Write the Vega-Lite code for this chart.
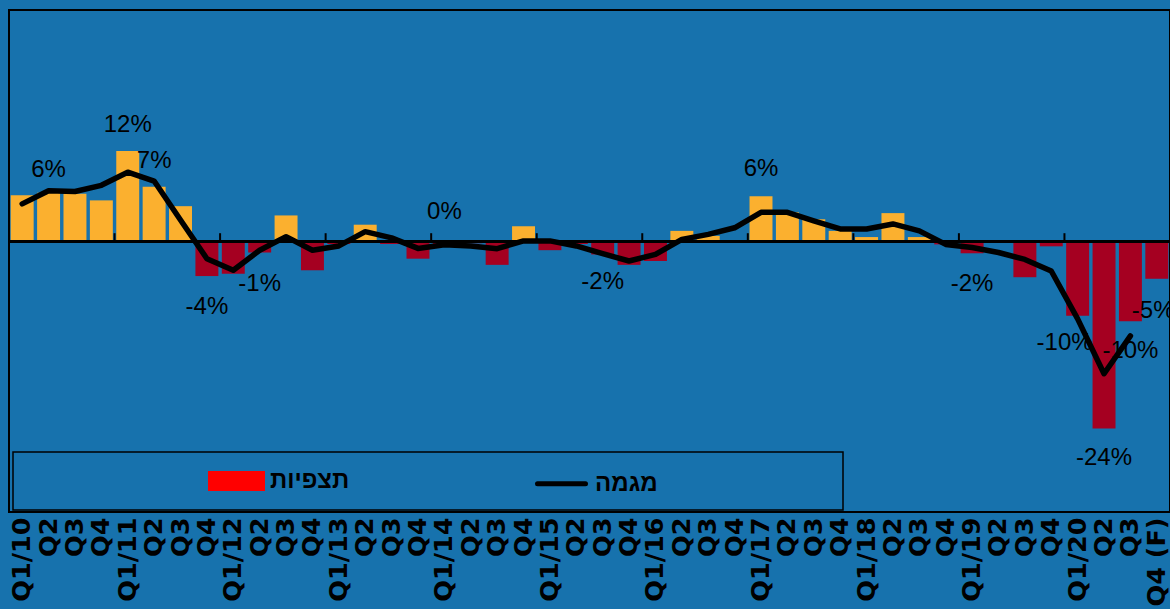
{
  "$schema": "https://vega.github.io/schema/vega-lite/v6.json",
  "width": 1161,
  "height": 502,
  "autosize": {"type": "none"},
  "padding": {"left": 9, "top": 10, "right": 0, "bottom": 97},
  "background": "#1772ad",
  "config": {
    "view": {"stroke": "#000000", "strokeWidth": 2},
    "text": {"font": "Liberation Sans"}
  },
  "data": {
    "values": [
      {"quarter": "Q1/10", "obs": 6.0, "trend": 4.9},
      {"quarter": "Q2/10", "obs": 6.35, "trend": 6.6},
      {"quarter": "Q3/10", "obs": 6.2, "trend": 6.5},
      {"quarter": "Q4/10", "obs": 5.35, "trend": 7.3},
      {"quarter": "Q1/11", "obs": 11.75, "trend": 9.0},
      {"quarter": "Q2/11", "obs": 7.1, "trend": 7.85},
      {"quarter": "Q3/11", "obs": 4.6, "trend": 2.8},
      {"quarter": "Q4/11", "obs": -4.45, "trend": -2.2},
      {"quarter": "Q1/12", "obs": -4.15, "trend": -3.7},
      {"quarter": "Q2/12", "obs": -1.4, "trend": -1.1},
      {"quarter": "Q3/12", "obs": 3.4, "trend": 0.65},
      {"quarter": "Q4/12", "obs": -3.7, "trend": -1.1},
      {"quarter": "Q1/13", "obs": -0.3, "trend": -0.55},
      {"quarter": "Q2/13", "obs": 2.2, "trend": 1.3},
      {"quarter": "Q3/13", "obs": -0.3, "trend": 0.5},
      {"quarter": "Q4/13", "obs": -2.2, "trend": -0.87},
      {"quarter": "Q1/14", "obs": -0.3, "trend": -0.4},
      {"quarter": "Q2/14", "obs": -0.2, "trend": -0.55},
      {"quarter": "Q3/14", "obs": -3.0, "trend": -0.9},
      {"quarter": "Q4/14", "obs": 2.0, "trend": 0.1},
      {"quarter": "Q1/15", "obs": -1.1, "trend": 0.1},
      {"quarter": "Q2/15", "obs": -0.3, "trend": -0.55},
      {"quarter": "Q3/15", "obs": -1.65, "trend": -1.55},
      {"quarter": "Q4/15", "obs": -3.0, "trend": -2.5},
      {"quarter": "Q1/16", "obs": -2.5, "trend": -1.65},
      {"quarter": "Q2/16", "obs": 1.4, "trend": 0.3},
      {"quarter": "Q3/16", "obs": 0.75, "trend": 0.95},
      {"quarter": "Q4/16", "obs": 0.22, "trend": 1.8},
      {"quarter": "Q1/17", "obs": 5.9, "trend": 3.8},
      {"quarter": "Q2/17", "obs": 3.8, "trend": 3.8},
      {"quarter": "Q3/17", "obs": 2.9, "trend": 2.7},
      {"quarter": "Q4/17", "obs": 1.4, "trend": 1.65},
      {"quarter": "Q1/18", "obs": 0.6, "trend": 1.65},
      {"quarter": "Q2/18", "obs": 3.7, "trend": 2.3},
      {"quarter": "Q3/18", "obs": 0.6, "trend": 1.4},
      {"quarter": "Q4/18", "obs": -0.35, "trend": -0.35},
      {"quarter": "Q1/19", "obs": -1.5, "trend": -0.75},
      {"quarter": "Q2/19", "obs": -0.1, "trend": -1.4},
      {"quarter": "Q3/19", "obs": -4.6, "trend": -2.3},
      {"quarter": "Q4/19", "obs": -0.6, "trend": -3.8},
      {"quarter": "Q1/20", "obs": -9.6, "trend": -10.0},
      {"quarter": "Q2/20", "obs": -24.2, "trend": -17.1},
      {"quarter": "Q3/20", "obs": -10.3, "trend": -12.2},
      {"quarter": "Q4 (F)", "obs": -4.8, "trend": null}
    ]
  },
  "layer": [
    {
      "mark": {"type": "bar"},
      "encoding": {
        "x": {
          "field": "quarter",
          "type": "ordinal",
          "scale": {
            "domain": ["Q1/10","Q2/10","Q3/10","Q4/10","Q1/11","Q2/11","Q3/11","Q4/11","Q1/12","Q2/12","Q3/12","Q4/12","Q1/13","Q2/13","Q3/13","Q4/13","Q1/14","Q2/14","Q3/14","Q4/14","Q1/15","Q2/15","Q3/15","Q4/15","Q1/16","Q2/16","Q3/16","Q4/16","Q1/17","Q2/17","Q3/17","Q4/17","Q1/18","Q2/18","Q3/18","Q4/18","Q1/19","Q2/19","Q3/19","Q4/19","Q1/20","Q2/20","Q3/20","Q4 (F)"],
            "paddingInner": 0.13,
            "paddingOuter": 0.065
          },
          "axis": {
            "title": null,
            "labelAngle": -90,
            "labelAlign": "right",
            "labelBaseline": "middle",
            "labelExpr": "slice(datum.label,0,2) == 'Q1' || datum.label == 'Q4 (F)' ? datum.label : slice(datum.label,0,2)",
            "domain": false,
            "ticks": false,
            "labelPadding": 5,
            "labelFont": "DejaVu Sans",
            "labelFontWeight": "bold",
            "labelFontSize": 25.5,
            "labelColor": "#000000",
            "labelOverlap": false,
            "labelBound": false
          }
        },
        "y": {
          "field": "obs",
          "type": "quantitative",
          "scale": {"domain": [-35, 30], "nice": false, "zero": false},
          "axis": null
        },
        "y2": {"datum": 0},
        "color": {
          "condition": [
            {"test": "datum.obs < 0", "value": "#a50021"},
            {"test": "datum.obs >= 0", "value": "#fbb02f"}
          ],
          "datum": "תצפיות",
          "scale": {"domain": ["תצפיות", "מגמה"], "range": ["#ff0000", "#000000"]},
          "legend": {
            "orient": "none",
            "legendX": 4,
            "legendY": 442,
            "direction": "horizontal",
            "title": "\u00a0",
            "titleOrient": "left",
            "titleFontSize": 1,
            "titlePadding": 194.5,
            "padding": 11.5,
            "strokeColor": "#000000",
            "symbolSize": 900,
            "labelFont": "Liberation Sans",
            "labelFontSize": 24,
            "labelFontWeight": "bold",
            "labelColor": "#000000",
            "labelOffset": 16,
            "labelLimit": 0,
            "columnPadding": 177,
            "labelExpr": "datum.value === 'מגמה' ? pad(datum.label, 30, '\u00a0') + '\u200b' : datum.label",
            "encode": {
              "legend": {"update": {"strokeWidth": {"value": 1.5}}},
              "symbols": {
                "update": {
                  "shape": {"signal": "datum.value === 'מגמה' ? 'M-1.6,0H1.6' : 'M-1.733,-0.5H1.733V0.5H-1.733Z'"},
                  "fill": {"signal": "datum.value === 'מגמה' ? 'transparent' : '#ff0000'"},
                  "stroke": {"signal": "datum.value === 'מגמה' ? '#000000' : 'transparent'"},
                  "strokeWidth": {"value": 5},
                  "strokeCap": {"value": "round"},
                  "opacity": {"value": 1},
                  "fillOpacity": {"value": 1},
                  "strokeOpacity": {"value": 1}
                }
              }
            }
          }
        }
      }
    },
    {
      "mark": {"type": "rule", "color": "#000000", "strokeWidth": 2.5},
      "encoding": {"y": {"datum": 0}}
    },
    {
      "data": {"values": [
        {"quarter": "Q1/11"}, {"quarter": "Q1/12"}, {"quarter": "Q1/13"}, {"quarter": "Q1/14"}, {"quarter": "Q1/15"},
        {"quarter": "Q1/16"}, {"quarter": "Q1/17"}, {"quarter": "Q1/18"}, {"quarter": "Q1/19"}, {"quarter": "Q1/20"}
      ]},
      "mark": {"type": "rule", "color": "#000000", "strokeWidth": 2},
      "encoding": {
        "x": {"field": "quarter", "type": "ordinal", "bandPosition": -0.075},
        "y": {"datum": 0},
        "y2": {"datum": 1.1}
      }
    },
    {
      "mark": {"type": "line", "strokeWidth": 5.5, "strokeJoin": "round", "strokeCap": "round"},
      "encoding": {
        "x": {"field": "quarter", "type": "ordinal"},
        "y": {"field": "trend", "type": "quantitative"},
        "color": {"datum": "מגמה"}
      }
    },
    {
      "data": {"values": [
        {"quarter": "Q2/10", "pos": 9.3, "label": "6%"},
        {"quarter": "Q1/11", "pos": 15.1, "label": "12%"},
        {"quarter": "Q2/11", "pos": 10.5, "label": "7%"},
        {"quarter": "Q4/11", "pos": -8.5, "label": "-4%"},
        {"quarter": "Q2/12", "pos": -5.5, "label": "-1%"},
        {"quarter": "Q1/14", "pos": 3.8, "label": "0%"},
        {"quarter": "Q3/15", "pos": -5.2, "label": "-2%"},
        {"quarter": "Q1/17", "pos": 9.4, "label": "6%"},
        {"quarter": "Q1/19", "pos": -5.5, "label": "-2%"},
        {"quarter": "Q2/20", "pos": -28.0, "label": "-24%"},
        {"quarter": "Q3/20", "pos": -14.2, "label": "-10%"}
      ]},
      "mark": {"type": "text", "fontSize": 24, "color": "#000000", "align": "center", "baseline": "middle"},
      "encoding": {
        "x": {"field": "quarter", "type": "ordinal"},
        "y": {"field": "pos", "type": "quantitative"},
        "text": {"field": "label"}
      }
    },
    {
      "data": {"values": [
        {"quarter": "Q1/20", "pos": -13.1, "label": "-10%"}
      ]},
      "mark": {"type": "text", "fontSize": 24, "color": "#000000", "align": "right", "baseline": "middle", "dx": 15},
      "encoding": {
        "x": {"field": "quarter", "type": "ordinal"},
        "y": {"field": "pos", "type": "quantitative"},
        "text": {"field": "label"}
      }
    },
    {
      "data": {"values": [
        {"quarter": "Q4 (F)", "pos": -9.0, "label": "-5%"}
      ]},
      "mark": {"type": "text", "fontSize": 24, "color": "#000000", "align": "left", "baseline": "middle", "dx": -25},
      "encoding": {
        "x": {"field": "quarter", "type": "ordinal"},
        "y": {"field": "pos", "type": "quantitative"},
        "text": {"field": "label"}
      }
    }
  ]
}
